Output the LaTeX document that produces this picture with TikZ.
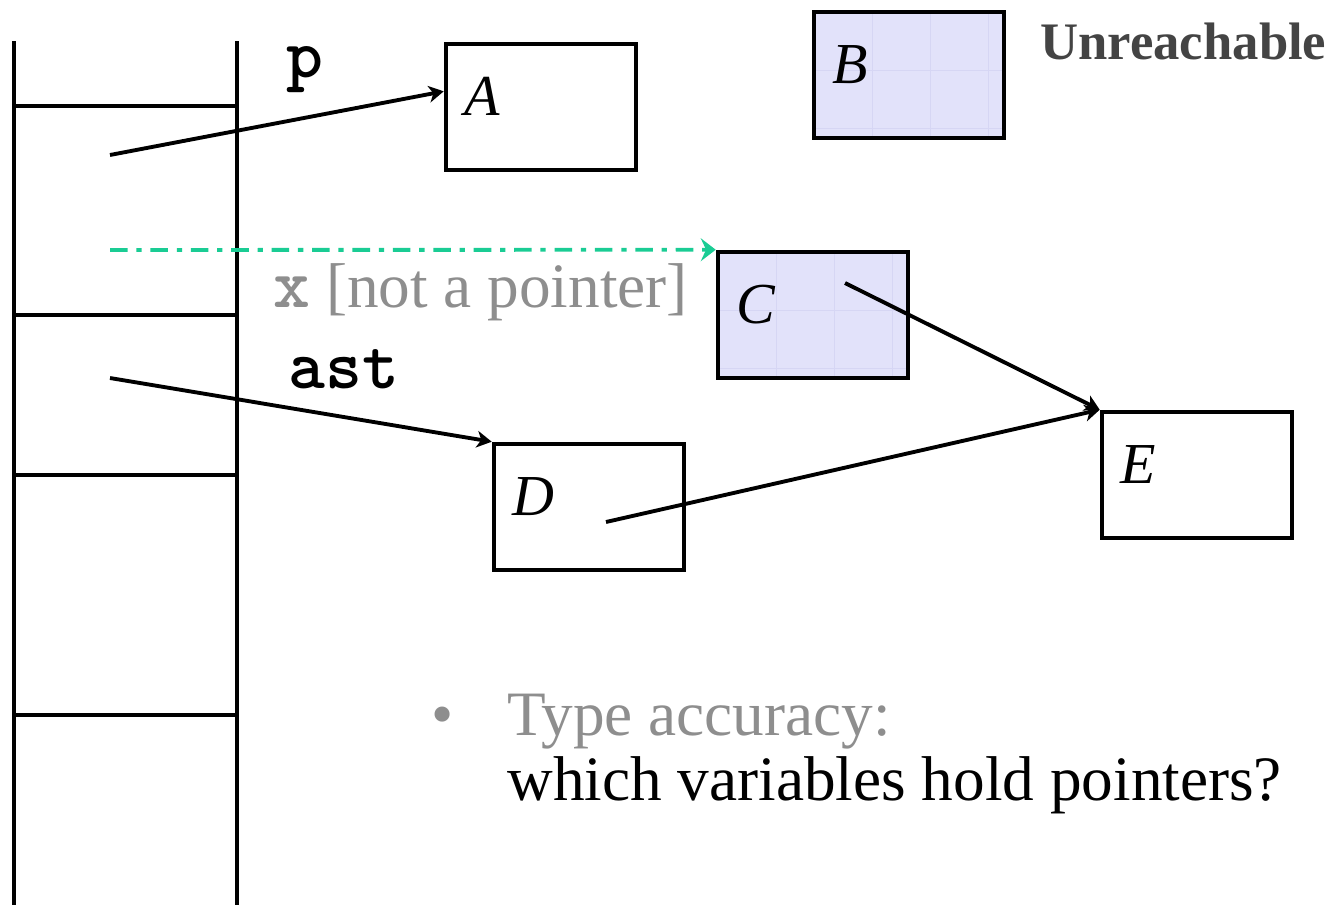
\documentclass[tikz,border=0pt]{standalone}
\usepackage{fontspec}
\setmainfont{Liberation Serif}
\usepackage{tikz}
\usetikzlibrary{
  arrows.meta,
  positioning,
  calc,
}
\definecolor{heapfill}{HTML}{E2E2FA}
\definecolor{heapgrid}{HTML}{D6D6F4}
\definecolor{scanline}{HTML}{1ACC94}
\definecolor{dimtext}{HTML}{8E8E8E}
\definecolor{darktext}{HTML}{444444}
\tikzset{
  >=Stealth,
  frame/.style={line width=2.4pt, line cap=rect},
  cell/.style={
    draw,
    line width=2.6pt,
    minimum width=3.8cm,
    minimum height=2.52cm,
    inner sep=0pt,
  },
  gridline/.style={heapgrid, line width=0.5pt},
  dead/.style={
    cell,
    fill=heapfill,
    path picture={
      \foreach \k in {1,2,3}
        \draw[gridline] ([xshift=\k*1.16cm]path picture bounding box.north west)
          -- ([xshift=\k*1.16cm]path picture bounding box.south west);
      \foreach \k in {1,2}
        \draw[gridline] ([yshift=-\k*1.16cm]path picture bounding box.north west)
          -- ([yshift=-\k*1.16cm]path picture bounding box.north east);
    },
  },
  tag/.style={font=\fontsize{33}{36}\selectfont\itshape, anchor=base west, inner sep=0pt},
  var/.style={font=\fontsize{40}{44}\selectfont\ttfamily\bfseries, anchor=base, inner sep=0pt},
  body/.style={font=\fontsize{36}{40}\selectfont, anchor=base west, inner sep=0pt},
  ref/.style={line width=2.2pt, -{Stealth[length=8.5pt, width=9.5pt, inset=2.5pt]}},
  scan/.style={
    scanline,
    line width=2.2pt,
    dash pattern=on 10pt off 5pt on 3pt off 5pt,
    -{Stealth[length=8.5pt, width=13pt, inset=3pt]},
  },
}

\begin{document}
\begin{tikzpicture}[x=0.02cm, y=-0.02cm]
  \useasboundingbox (0,0) rectangle (1334,905);

  % stack frame
  \draw[frame] (14,43) -- (14,905);
  \draw[frame] (237,43) -- (237,905);
  \foreach \y in {106,315,475,715}
    \draw[frame] (14,\y) -- (237,\y);
  \coordinate (pslot) at (110,155);
  \coordinate (xslot) at (110,250);
  \coordinate (astslot) at (110,378);

  \node[var] (pname) at (305,78) {p};
  \node[var] (astname) at (344,388) {ast};
  \node[body, text=dimtext] (xname) at (273,308) {{\fontsize{40}{44}\selectfont\ttfamily\bfseries x} [not a pointer]};

  % heap cells
  \node[cell] (A) at (541,107) {};
  \node[dead] (B) at (909,75) {};
  \node[dead] (C) at (813,315) {};
  \node[cell] (D) at (589,507) {};
  \node[cell] (E) at (1197,475) {};
  \foreach \n in {A,B,C,D,E}
    \node[tag] at ($(\n.north west)+(20,74)$) {\n};
  \coordinate (cfield) at (845,283);
  \coordinate (dfield) at (606,522);

  \node[body, font=\fontsize{30}{34}\selectfont\bfseries, text=darktext] (unreach) at (1040,60) {Unreachable};

  % pointers
  \draw[ref] (pslot) -- ($(A.north west)!0.38!(A.south west)$);
  \draw[ref] (astslot) -- (D.north west);
  \draw[ref] (cfield) -- (E.north west);
  \draw[ref] (dfield) -- (E.north west);
  \draw[scan] (xslot) -- (C.north west);

  % note
  \node[body, text=dimtext] (bullet) at (431,735) {\textbullet};
  \node[body, text=dimtext] (kind) at (507,735) {Type accuracy:};
  \node[body] (question) at (507,800) {which variables hold pointers?};
\end{tikzpicture}
\end{document}
